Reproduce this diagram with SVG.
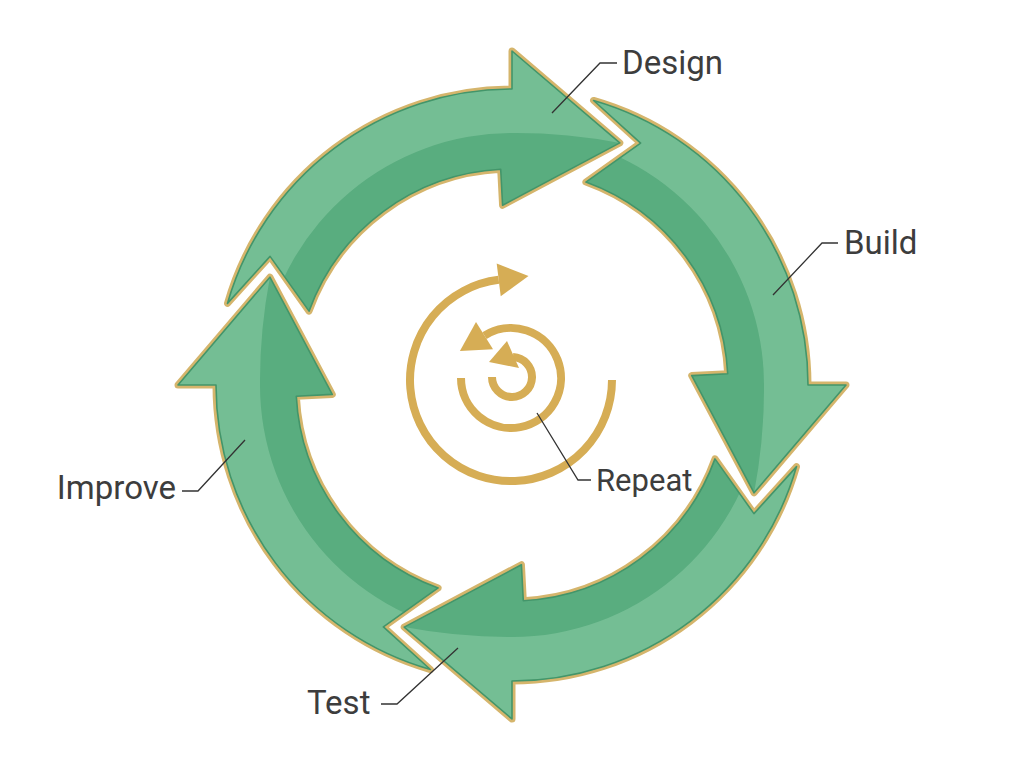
<svg xmlns="http://www.w3.org/2000/svg" xmlns:xlink="http://www.w3.org/1999/xlink" width="1024" height="765" viewBox="0 0 1024 765">
<style>
.gold{fill:none;stroke:#d5b56c;stroke-width:7;stroke-linejoin:round}
.body{fill:#59ad7f}
.hl{fill:#80c49d;opacity:0.7}
.edge{fill:none;stroke:#43956a;stroke-width:1.6;stroke-linejoin:round}
.lbl{font-family:Roboto,"Liberation Sans",sans-serif;font-size:33px;fill:#3d3d3d}
.lead{fill:none;stroke:#333;stroke-width:1.3}
.sp{fill:none;stroke:#d6ad55;stroke-width:8}
.sph{fill:#d6ad55}
</style>
<defs>
<path id="arrow" d="M593.59,100.47 A296,296 0 0 1 808,385 L846,385 L754.09,492.79 L691.75,375.58 L727.70,373.70 A216,216 0 0 0 585.88,182.03 L640.63,143.07 Z"/>
<clipPath id="ac"><path d="M593.59,100.47 A296,296 0 0 1 808,385 L846,385 L754.09,492.79 L691.75,375.58 L727.70,373.70 A216,216 0 0 0 585.88,182.03 L640.63,143.07 Z"/></clipPath>
<path id="band" d="M564.09,89.56 A300,300 0 0 1 812,385 L860,385 L754.09,492.79 Q764.4,438.6 764,385 A252,252 0 0 0 555.76,136.83 Z"/>
</defs>
<rect width="1024" height="765" fill="#ffffff"/>

<g id="node-design" transform="rotate(-90 512 385)">
<use xlink:href="#arrow" class="gold"/>
<use xlink:href="#arrow" class="body"/>
<use xlink:href="#band" class="hl" clip-path="url(#ac)"/>
<use xlink:href="#arrow" class="edge"/>
</g>
<g id="node-build">
<use xlink:href="#arrow" class="gold"/>
<use xlink:href="#arrow" class="body"/>
<use xlink:href="#band" class="hl" clip-path="url(#ac)"/>
<use xlink:href="#arrow" class="edge"/>
</g>
<g id="node-test" transform="rotate(90 512 385)">
<use xlink:href="#arrow" class="gold"/>
<use xlink:href="#arrow" class="body"/>
<use xlink:href="#band" class="hl" clip-path="url(#ac)"/>
<use xlink:href="#arrow" class="edge"/>
</g>
<g id="node-improve" transform="rotate(180 512 385)">
<use xlink:href="#arrow" class="gold"/>
<use xlink:href="#arrow" class="body"/>
<use xlink:href="#band" class="hl" clip-path="url(#ac)"/>
<use xlink:href="#arrow" class="edge"/>
</g>

<g id="node-repeat">
<path class="sp" d="M612,380 A101,101 0 1 1 498.7,279.8"/>
<polygon class="sph" points="496.7,263.4 528.5,276.1 500.7,296.2"/>
<path class="sp" d="M461,378 A50,50 0 1 0 484.5,335.6"/>
<polygon class="sph" points="476,322 459.9,351 493,349.2"/>
<path class="sp" d="M492,377 A20,20 0 1 0 513,357"/>
<polygon class="sph" points="507,341 489,362 519,368"/>
</g>

<g id="connectors">
<polyline class="lead" points="552,113 600,63 617,63"/>
<polyline class="lead" points="773,295 822,243 838,243"/>
<polyline class="lead" points="537,413 578,480 591,480"/>
<polyline class="lead" points="245,440 198,491 182,491"/>
<polyline class="lead" points="458,648 397,704 381,704"/>
</g>

<g id="labels">
<text class="lbl" x="622" y="74">Design</text>
<text class="lbl" x="844" y="254">Build</text>
<text class="lbl" x="596" y="491" style="font-size:31px">Repeat</text>
<text class="lbl" x="176" y="499" text-anchor="end">Improve</text>
<text class="lbl" x="307" y="714">Test</text>
</g>
</svg>
